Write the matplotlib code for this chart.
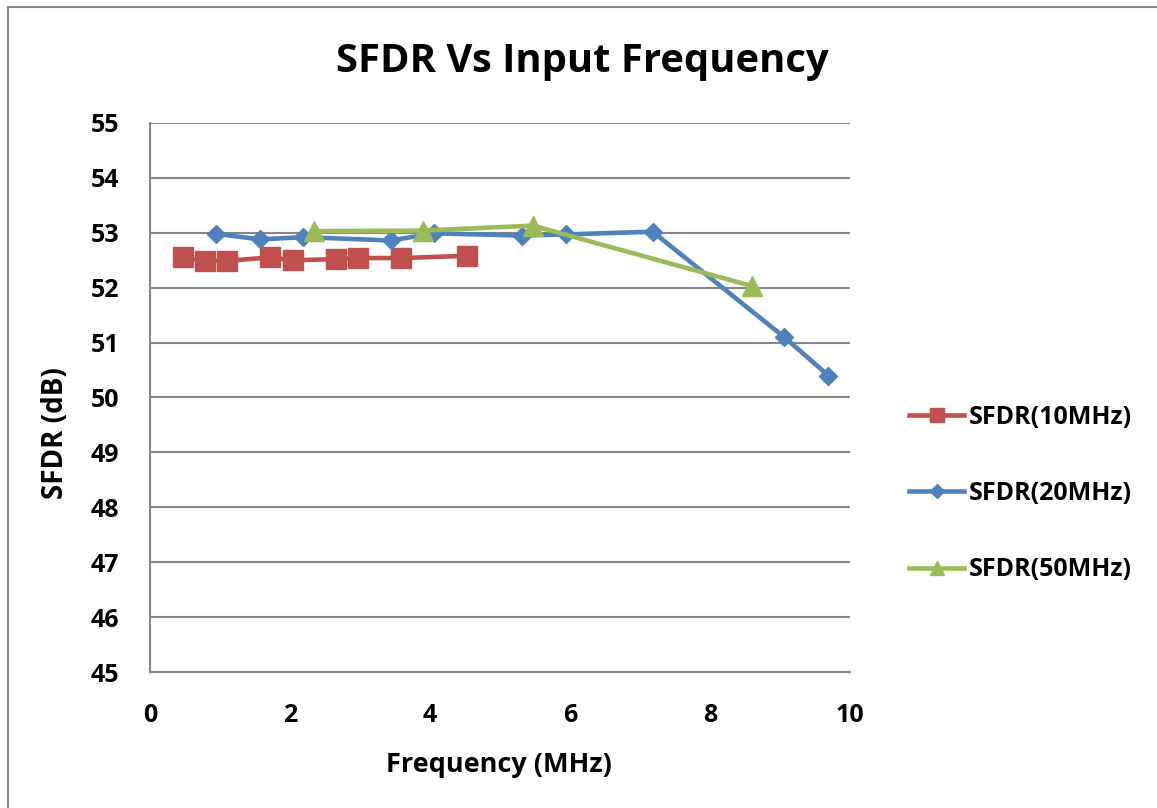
import matplotlib
matplotlib.use('Agg')
import matplotlib.pyplot as plt
from matplotlib.patches import Rectangle

plt.rcParams['font.family'] = ['Open Sans', 'DejaVu Sans']
plt.rcParams['font.weight'] = 'bold'
plt.rcParams['axes.labelweight'] = 'bold'

# SFDR measurements per sample rate
freq_10 = [0.47, 0.79, 1.10, 1.71, 2.04, 2.66, 2.97, 3.59, 4.53]
sfdr_10 = [52.55, 52.49, 52.49, 52.55, 52.50, 52.52, 52.54, 52.54, 52.58]

freq_20 = [0.95, 1.57, 2.19, 3.44, 4.06, 5.31, 5.94, 7.18, 9.06, 9.69]
sfdr_20 = [52.98, 52.88, 52.92, 52.86, 52.99, 52.95, 52.97, 53.02, 51.10, 50.40]

freq_50 = [2.34, 3.90, 5.47, 8.60]
sfdr_50 = [53.03, 53.04, 53.13, 52.03]

labels = ['SFDR(10MHz)', 'SFDR(20MHz)', 'SFDR(50MHz)']
colors = ['#C0504D', '#4F81BD', '#9BBB59']

fig = plt.figure(figsize=(11.57, 8.08), dpi=100)
ax = fig.add_axes([0.1296, 0.1683, 0.6051, 0.6795])

# outer chart frame
fig.patches.append(Rectangle((0.007, -0.05), 1.1, 1.041, transform=fig.transFigure,
                             fill=False, edgecolor='#878787', linewidth=1.5))

ax.plot(freq_10, sfdr_10, color=colors[0], lw=3.3, marker='s', ms=14, label=labels[0], zorder=3)
ax.plot(freq_20, sfdr_20, color=colors[1], lw=3.3, marker='D', ms=9.5, label=labels[1], zorder=3)
ax.plot(freq_50, sfdr_50, color=colors[2], lw=3.3, marker='^', ms=14, label=labels[2], zorder=4)

ax.set_xlim(0, 10)
ax.set_ylim(45, 55)
ax.set_xticks(range(0, 11, 2))
ax.set_yticks(range(45, 56))
ax.grid(axis='y', color='#868686', lw=1.5)
ax.set_axisbelow(True)
for s in ['top', 'right']:
    ax.spines[s].set_visible(False)
for s in ['left', 'bottom']:
    ax.spines[s].set_color('#868686')
    ax.spines[s].set_linewidth(1.5)
ax.tick_params(length=0, labelsize=18, pad=22)
for t in ax.get_xticklabels() + ax.get_yticklabels():
    t.set_fontweight('bold')

ax.set_xlabel('Frequency (MHz)', fontsize=19.5, fontweight='bold')
ax.set_ylabel('SFDR (dB)', fontsize=20, fontweight='bold')
ax.xaxis.set_label_coords(0.499, -0.146)
ax.yaxis.set_label_coords(-0.114, 0.435)
fig.text(0.503, 0.924, 'SFDR Vs Input Frequency', ha='center', va='center',
         fontsize=28.8, fontweight='bold')

ax.legend(loc='center left', bbox_to_anchor=(1.07, 0.325), frameon=False,
          prop={'size': 18, 'weight': 'bold'}, labelspacing=2.05, handlelength=2.2,
          handletextpad=0.2, markerscale=0.75, borderaxespad=0)

fig.savefig('out.png', dpi=100)
